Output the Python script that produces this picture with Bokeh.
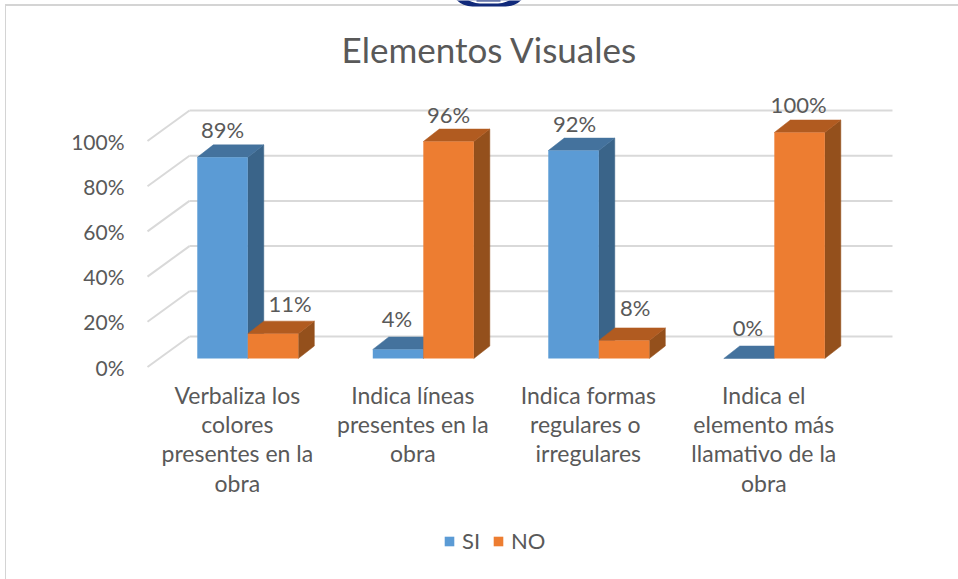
from bokeh.plotting import figure
from bokeh.models import (Range1d, FixedTicker, Legend, LegendItem, BoxAnnotation, ColumnDataSource,
                          LinearAxis)
from bokeh.core.properties import value
from bokeh.embed import file_html
from bokeh.resources import INLINE

categories = ["Verbaliza los\ncolores\npresentes en la\nobra",
              "Indica líneas\npresentes en la\nobra",
              "Indica formas\nregulares  o\nirregulares",
              "Indica el\nelemento más\nllamativo de la\nobra"]
si_values = [89, 4, 92, 0]
no_values = [11, 96, 8, 100]
y_ticks = [0, 20, 40, 60, 80, 100]
title_text = "Elementos Visuales"

W, H = 958, 579
FONT = "Lato"
TXT = "#595959"
L, R, T, B = 130, 958, 0, 579          # frame, page pixels
PXX = 175.5                            # pixels per category
PXY = 2.26                             # pixels per percentage point
X0, Y0 = 247.3, 366.5                  # page pixels of category 0 / of 0 %
def X(px): return (px - X0) / PXX
def Y(px): return (Y0 - px) / PXY

EDGE = "#d4d4d4"
p = figure(width=W, height=H, output_backend="svg", toolbar_location=None,
           x_range=Range1d(X(L), X(R)), y_range=Range1d(Y(B), Y(T)),
           x_axis_type=None, y_axis_type=None,
           min_border_left=L, min_border_right=0, min_border_top=0, min_border_bottom=0,
           outline_line_color=None, background_fill_color=None, border_fill_color=None,
           styles={"background-image": f"linear-gradient({EDGE},{EDGE}),linear-gradient({EDGE},{EDGE})",
                   "background-size": "953px 2px,1px 575px",
                   "background-position": "5px 4px,5px 4px",
                   "background-repeat": "no-repeat"})
p.grid.visible = False

# title
p.text(x=[X(489)], y=[Y(48)], text=[title_text], text_font=value(FONT), text_font_size="35px",
       text_color=TXT, text_align="center", text_baseline="middle")

# y axis
ya = LinearAxis(ticker=FixedTicker(ticks=y_ticks), axis_line_color=None, major_tick_line_color=None,
                minor_tick_line_color=None, major_label_standoff=0,
                major_label_text_font=FONT, major_label_text_font_size="21px",
                major_label_text_color=TXT, major_label_overrides={t: f"{t}%" for t in y_ticks})
p.add_layout(ya, "left")

# category labels
LABEL_SHIFT = -10.5 / PXX
p.text(x=[i + LABEL_SHIFT for i in range(len(categories))], y=[Y(380)] * len(categories), text=categories,
       text_font=value(FONT), text_font_size="23px", text_color=TXT, text_align="center",
       text_baseline="top", text_line_height=1.05)

# walls
GRID = "#d9d9d9"
wall = 30.5 / PXY
for t in y_ticks:
    p.line([X(189), X(892)], [t + wall, t + wall], line_color=GRID, line_width=2)
    p.line([X(147), X(189)], [t, t + wall], line_color=GRID, line_width=2)

# 3D bars
base = (Y0 - 358) / PXY
w = 50.5 / PXX
dx = 16 / PXX
dy = 12.5 / PXY
def bars(vals, x_shift, front, side, top):
    xs = [i + x_shift for i in range(len(vals))]
    sx, sy, tx, ty = [], [], [], []
    for x, v in zip(xs, vals):
        l, r, y = x - w / 2, x + w / 2, base + v
        sx.append([r, r + dx, r + dx, r]); sy.append([base, base + dy, y + dy, y])
        tx.append([l, l + dx, r + dx, r]); ty.append([y, y + dy, y + dy, y])
    # a zero bar shows its top only
    keep = [i for i, v in enumerate(vals) if v > 0]
    p.patches([sx[i] for i in keep], [sy[i] for i in keep], fill_color=side, line_color=side, line_width=0.5)
    p.patches(tx, ty, fill_color=top, line_color=top, line_width=0.5)
    return p.vbar(x=xs, bottom=base, top=[base + v for v in vals], width=w,
                  fill_color=front, line_color=None)

BX, OX = -0.144, 0.144
r_si = bars(si_values, BX, "#5B9BD5", "#3A6489", "#44729D")
r_no = bars(no_values, OX, "#ED7D31", "#94501C", "#B15B20")

# data labels
def labels(vals, x_shift, xo, yo):
    src = ColumnDataSource(dict(x=[i + x_shift for i in range(len(vals))],
                                y=[base + v for v in vals], t=[f"{v}%" for v in vals], xo=xo, yo=yo))
    p.text(x="x", y="y", text="t", source=src, x_offset="xo", y_offset="yo",
           text_font=value(FONT), text_font_size="22px", text_color=TXT,
           text_align="center", text_baseline="middle")
labels(si_values, BX, [0, -1, 1, -1], [-28, -31, -27, -31])
labels(no_values, OX, [17, 0, 11, -1], [-30, -27, -33, -28])

# legend
leg = Legend(items=[LegendItem(label="SI", renderers=[r_si]), LegendItem(label="NO", renderers=[r_no])],
             orientation="horizontal", location=(444 - L - 1, B - 554), border_line_color=None,
             background_fill_alpha=0, label_text_font=FONT, label_text_font_size="22px",
             label_text_color=TXT, glyph_width=12, glyph_height=12, spacing=10, padding=4, margin=0,
             label_standoff=7)
p.add_layout(leg, "center")

# edge of the logo above the chart (annotation pixels count from the frame's lower left)
def box(l, r, t, b, color, **kw):
    p.add_layout(BoxAnnotation(left=l - L, right=r - L, top=B - t, bottom=B - b, left_units="screen",
                               right_units="screen", top_units="screen", bottom_units="screen",
                               fill_color=color, fill_alpha=1, line_color=None, level="overlay", **kw))
box(449, 528, -40, 6, "#10297a", border_radius=30)
box(458, 519, -40, 3, "#ffffff", border_radius=24)
box(476, 500, -10, 1, "#10297a")

open("out.html", "w").write(file_html(p, INLINE))
